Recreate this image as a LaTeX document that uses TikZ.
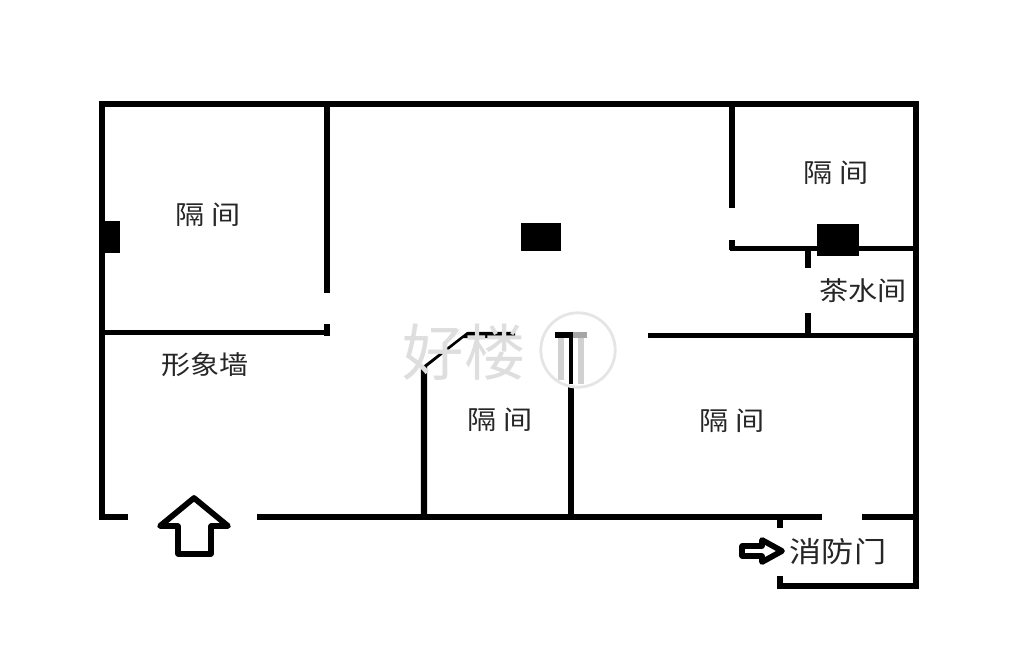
\documentclass[tikz,border=0pt]{standalone}
\usepackage{fontspec}
\newfontfamily\cjk[FakeStretch=1.12]{Noto Sans CJK SC}
\newfontfamily\cjkw{Noto Sans CJK SC}
\begin{document}
\begin{tikzpicture}[x=0.75pt,y=-0.75pt,
  wall/.style={line width=4.8pt,line cap=butt,black},
  thin wall/.style={line width=4pt,line cap=butt,black},
  pillar/.style={fill=black,draw=none},
  arrowline/.style={line width=4.3pt,line join=round,black,fill=white},
  room/.style={font=\cjk\fontsize{19.5}{22}\selectfont,text=black!85,inner sep=0pt},
  wm/.style={text=black!13,inner sep=0pt}]
\useasboundingbox (0,0) rectangle (1020,652);
\fill[white] (0,0) rectangle (1020,652);
% outer walls
\draw[wall,line join=miter] (128,517) -- (102,517) -- (102,104) -- (916,104) -- (916,586) -- (777,586);
\draw[wall] (257,517) -- (822,517);
\draw[wall] (862,517) -- (916,517);
\draw[wall] (780,517) -- (780,528);
\draw[wall] (780,576) -- (780,588);
% left room
\draw[wall] (327,104) -- (327,293);
\draw[thin wall] (102,332.5) -- (330,332.5);
\draw[wall] (327,324) -- (327,336);
\fill[pillar] (104,221) rectangle (120,253);
% top right room
\draw[wall] (732,104) -- (732,208);
\draw[wall] (732,240) -- (732,250);
\draw[thin wall] (729.8,248.5) -- (916,248.5);
\fill[pillar] (817,224) rectangle (859,256);
\draw[wall] (808,248) -- (808,268);
\draw[wall] (808,313) -- (808,336);
\draw[thin wall] (648,335.5) -- (916,335.5);
% centre pillar
\fill[pillar] (521,223) rectangle (561,251);
% middle room
\draw[wall,line join=miter] (424,517) -- (424,365) -- (462,335) -- (515,335);
\draw[wall] (571,517) -- (571,384);
% watermark
\fill[white] (578,350) circle (33);
\draw[black!10,line width=2.4pt] (578,350) circle (37);
\draw[white,line width=2.5pt] (578,350) circle (34);
\draw[white,line width=3pt] (404,378) -- (470,327);
\node[wm,font=\cjkw\fontsize{46}{50}\selectfont] (wmark) at (464,352) {好楼};
\draw[black!18,line width=4pt] (561,338) -- (561,380);
\draw[black!18,line width=4pt] (581,338) -- (581,384);
\draw[thin wall,black!35] (571,335) -- (587,335);
\draw[thin wall] (555,335) -- (573,335);
\draw[line width=3.4pt,black] (571,335) -- (571,384);
% entrance arrow
\draw[arrowline] (194,498) -- (228,526) -- (211,526) -- (211,554) -- (178,554) -- (178,526) -- (160,526) -- cycle;
% fire door arrow
\draw[arrowline] (742,546) -- (762,546) -- (762,540) -- (782,551) -- (762,562) -- (762,556) -- (742,556) -- cycle;
% labels
\node[room] (r1) at (208,215) {隔 间};
\node[room] (r2) at (836,173) {隔 间};
\node[room] (r3) at (500,420) {隔 间};
\node[room] (r4) at (732,421) {隔 间};
\node[room] (r5) at (205,365) {形象墙};
\node[room] (r6) at (863,291) {茶水间};
\node[room,font=\cjk\fontsize{21.5}{24}\selectfont] (r7) at (838,552) {消防门};
\end{tikzpicture}
\end{document}
